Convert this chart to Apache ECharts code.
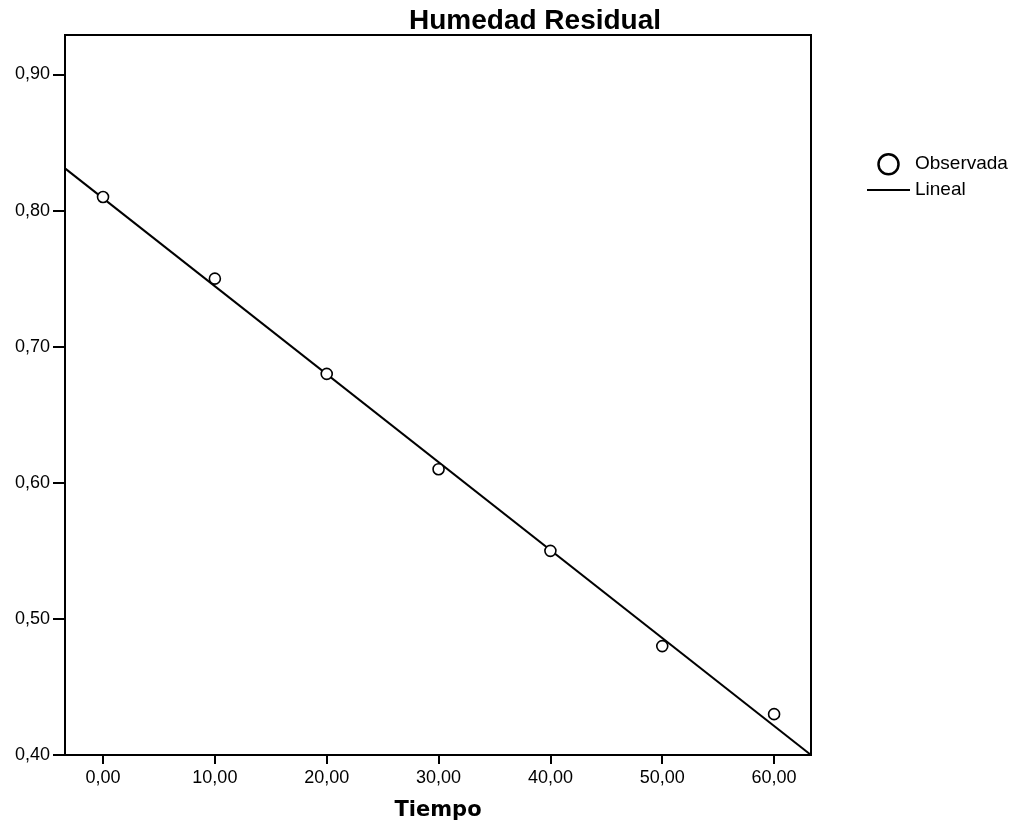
<!DOCTYPE html>
<html>
<head>
<meta charset="utf-8">
<script src="https://cdn.jsdelivr.net/npm/echarts@6/dist/echarts.min.js"></script>
<style>html,body{margin:0;padding:0;background:#fff;}#c{width:1019px;height:824px;}</style>
</head>
<body>
<div id="c"></div>
<script>
const titleText = 'Humedad Residual';
const xName = 'Tiempo';
const time = [0, 10, 20, 30, 40, 50, 60];
const observed = [0.81, 0.75, 0.68, 0.61, 0.55, 0.48, 0.43];
const fitX = [-3.4, 63.3];
const fitY = [0.831, 0.400];
const xTicks = [0, 10, 20, 30, 40, 50, 60];
const yTicks = [0.40, 0.50, 0.60, 0.70, 0.80, 0.90];
const seriesNames = ['Observada', 'Lineal'];

const fmt = v => Number(v).toFixed(2).replace('.', ',');
const chart = echarts.init(document.getElementById('c'), null, {renderer: 'canvas'});
chart.setOption({
  backgroundColor: '#fff',
  animation: false,
  title: {
    text: titleText, left: 409, top: 7, padding: 0,
    textStyle: {fontFamily: 'Liberation Sans', fontWeight: 'bold', fontSize: 28, color: '#000'}
  },
  legend: {
    orient: 'vertical', left: 862, top: 148, itemWidth: 43, itemHeight: 20, itemGap: 5,
    textStyle: {fontFamily: 'Liberation Sans', fontSize: 19, color: '#000'},
    data: [
      {name: seriesNames[0], icon: 'circle', itemStyle: {color: '#fff', borderColor: '#000', borderWidth: 2.5}},
      {name: seriesNames[1], icon: 'path://M0,0 L43,0 L43,2 L0,2 Z', itemStyle: {color: '#000', borderWidth: 0}}
    ]
  },
  grid: {left: 65, right: 208, top: 35, bottom: 69, show: true, borderColor: '#000', borderWidth: 2, containLabel: false, outerBoundsMode: 'none'},
  xAxis: {
    type: 'value', min: fitX[0], max: fitX[1],
    name: xName, nameLocation: 'middle', nameGap: 45,
    nameTextStyle: {fontFamily: 'DejaVu Sans', fontWeight: 'bold', fontSize: 21, color: '#000'},
    axisLine: {show: true, onZero: false, lineStyle: {color: '#000', width: 2}},
    axisTick: {show: true, length: 9, lineStyle: {color: '#000', width: 2}, customValues: xTicks},
    axisLabel: {customValues: xTicks, formatter: fmt, margin: 14, fontFamily: 'Liberation Sans', fontSize: 18, color: '#000'},
    splitLine: {show: false}
  },
  yAxis: {
    type: 'value', min: 0.40, max: 0.929,
    axisLine: {show: true, onZero: false, lineStyle: {color: '#000', width: 2}},
    axisTick: {show: true, length: 12, lineStyle: {color: '#000', width: 2}, customValues: yTicks},
    axisLabel: {customValues: yTicks, formatter: fmt, margin: 15, fontFamily: 'Liberation Sans', fontSize: 18, color: '#000'},
    splitLine: {show: false}
  },
  series: [
    {
      name: seriesNames[0], type: 'scatter', symbol: 'circle', symbolSize: 11,
      itemStyle: {color: '#fff', borderColor: '#000', borderWidth: 1.6, opacity: 1},
      data: time.map((t, i) => [t, observed[i]]), z: 3
    },
    {
      name: seriesNames[1], type: 'line', symbol: 'none',
      lineStyle: {color: '#000', width: 2},
      itemStyle: {color: '#000'},
      data: fitX.map((t, i) => [t, fitY[i]]), z: 2
    }
  ]
});
</script>
</body>
</html>
